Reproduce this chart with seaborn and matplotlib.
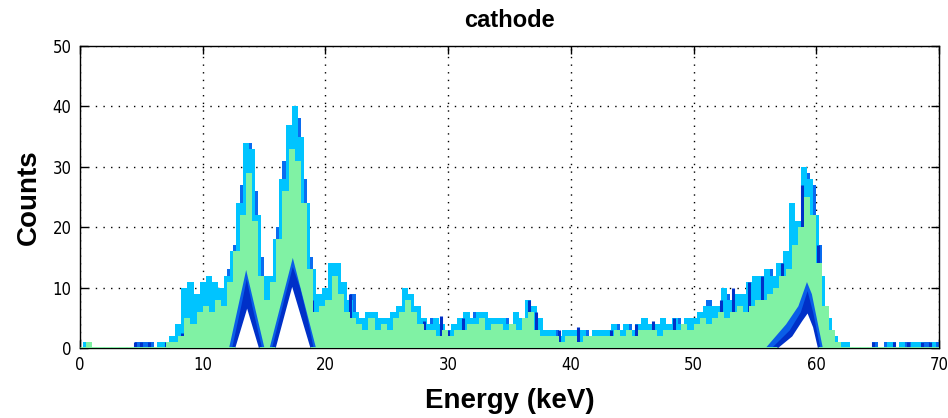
import numpy as np
import pandas as pd
import matplotlib
matplotlib.use("Agg")
import matplotlib.pyplot as plt
import seaborn as sns

# ---------------- data ----------------
BIN = 0.5
# upper envelope of the blue spectra, bins starting at 0, 0.5, ..., 69.5 keV
blue_top = [0, 0, 0, 0, 0, 0, 0, 0, 0, 1,
            1, 1, 0, 1, 1, 1, 3, 8, 9, 7,
            11, 10, 10, 9, 13, 17, 27, 34, 26, 15,
            9, 12, 20, 31, 36, 38, 28, 15, 7, 8,
            9, 14, 11, 8, 9, 4, 4, 5, 4, 5,
            4, 5, 7, 8, 7, 5, 3, 5, 4, 3,
            3, 4, 5, 5, 6, 5, 4, 5, 4, 5,
            4, 5, 5, 7, 5, 3, 2, 3, 2, 3,
            3, 2, 3, 2, 3, 3, 2, 4, 3, 4,
            3, 4, 4, 3, 4, 4, 3, 5, 4, 5,
            5, 6, 8, 6, 7, 9, 7, 8, 9, 10,
            11, 10, 13, 12, 13, 15, 20, 21, 29, 27,
            17, 7, 3, 1, 0, 0, 0, 0, 0, 1,
            0, 1, 1, 0, 1, 1, 0, 1, 1, 1]
# upper envelope of the cyan spectra, bins starting at 0.25, 0.75, ... keV
cyan_top = [1, 0, 0, 0, 0, 0, 0, 0, 0, 0,
            0, 0, 1, 1, 2, 4, 10, 11, 9, 11,
            12, 11, 10, 12, 16, 24, 34, 33, 22, 12,
            12, 18, 28, 37, 40, 35, 24, 13, 9, 10,
            14, 14, 11, 8, 6, 5, 6, 6, 5, 5,
            6, 7, 10, 9, 7, 5, 4, 5, 4, 3,
            4, 5, 6, 5, 6, 6, 5, 5, 5, 4,
            6, 5, 8, 7, 5, 3, 3, 2, 3, 3,
            3, 3, 2, 3, 3, 3, 4, 3, 4, 3,
            4, 5, 4, 4, 5, 4, 5, 4, 5, 5,
            6, 7, 7, 7, 10, 8, 9, 9, 11, 12,
            12, 13, 12, 14, 16, 24, 21, 30, 28, 22,
            12, 5, 2, 1, 1, 0, 0, 0, 0, 0,
            0, 1, 0, 1, 0, 1, 1, 0, 1, 0]
# upper envelope of the green spectra, bins starting at 0, 0.5, ... keV
green_top = [0, 1, 0, 0, 0, 0, 0, 0, 0, 0,
             0, 0, 0, 0, 1, 1, 2, 5, 4, 6,
             7, 6, 8, 7, 11, 16, 22, 29, 21, 12,
             8, 11, 18, 26, 33, 31, 24, 13, 6, 7,
             8, 12, 9, 6, 5, 4, 3, 5, 3, 4,
             3, 5, 6, 8, 6, 4, 3, 3, 2, 3,
             2, 3, 3, 4, 4, 5, 3, 4, 4, 3,
             4, 3, 5, 6, 3, 2, 2, 2, 1, 2,
             2, 1, 2, 2, 2, 2, 2, 3, 2, 3,
             2, 3, 3, 3, 2, 3, 3, 3, 4, 3,
             4, 5, 4, 5, 6, 5, 6, 7, 6, 7,
             8, 8, 9, 10, 12, 13, 17, 20, 25, 22,
             14, 7, 3, 1, 0, 0, 0, 0, 0, 0,
             0, 0, 0, 0, 0, 0, 0, 0, 0, 0]
# single dark-blue channels that stick out of the green body
spike_E = [4.5, 5.0, 5.6, 7.0, 8.3, 12.1, 18.9, 22.0, 23.7, 28.0, 29.4, 30.0, 31.2, 33.7,
           36.6, 37.2, 38.3, 39.0, 40.6, 43.3, 45.3, 46.7, 48.4, 52.2, 53.2, 54.5,
           55.6, 57.2, 58.8, 59.5, 60.1, 64.6, 66.3, 67.5, 68.6, 69.3]
spike_C = [1, 1, 1, 1, 2.5, 7, 8, 9, 5, 4.5, 5.3, 3, 5, 4,
           8, 6, 1.5, 3, 3.5, 3, 4, 4.4, 5, 8, 10, 11,
           12, 14, 27, 21, 17, 1, 1, 1, 1, 1]
# blue band under the peaks (energy, counts)
mid_E = [0, 12.1, 13.5, 15.0, 15.4, 17.3, 19.2,
         55.8, 57.5, 58.5, 59.2, 59.6, 60.2, 60.5, 70]
mid_C = [0, 0, 13, 0, 0, 15, 0,
         0, 4, 7, 11, 9, 3, 0, 0]
# dark-blue band under the peaks
dark_E = [0, 12.35, 13.1, 13.55, 14.0, 14.8, 15.6, 16.6, 17.3, 17.9, 18.5, 19.0,
          56.3, 57.8, 58.7, 59.25, 59.7, 60.3, 70]
dark_C = [0, 0, 7, 11.5, 7, 0, 0, 8, 13.5, 10, 5, 0,
          0, 3, 6, 9.5, 6, 0, 0]
# minimum over all spectra (empty area under the peaks)
floor_E = [0, 12.6, 13.58, 14.55, 15.9, 17.25, 18.75, 56.8, 58.0, 58.8, 59.25, 59.7, 60.1, 70]
floor_C = [0, 0, 6.6, 0, 0, 10.2, 0, 0, 2, 4.5, 5.8, 3.5, 0, 0]

x_ticks = [0, 10, 20, 30, 40, 50, 60, 70]
y_ticks = [0, 10, 20, 30, 40, 50]

# ---------------- style ----------------
sns.set_theme(style="ticks")
plt.rcParams["font.family"] = ["Liberation Sans", "DejaVu Sans"]
plt.rcParams.update({"text.color": "black", "axes.labelcolor": "black",
                     "xtick.color": "black", "ytick.color": "black"})

C_BLUE = "#0a6cf0"
C_CYAN = "#00c4ff"
C_GREEN = "#80f2a4"
C_MID = "#0a5ee8"
C_DARK = "#0030c8"

fig = plt.figure(figsize=(9.48, 4.18), dpi=100)
ax = fig.add_axes([80 / 948, 1 - 348 / 418, (939 - 80) / 948, (348 - 46) / 418])

n = len(blue_top)
df0 = pd.DataFrame({"E": np.arange(n) * BIN + BIN / 2, "blue": blue_top, "green": green_top})
df1 = pd.DataFrame({"E": np.arange(n) * BIN + BIN, "cyan": cyan_top})

sns.histplot(data=df0, x="E", weights="blue", binwidth=BIN, binrange=(0, n * BIN),
             element="step", fill=True, color=C_BLUE, alpha=1, linewidth=0, ax=ax, zorder=1.0)
sns.histplot(data=df1, x="E", weights="cyan", binwidth=BIN, binrange=(BIN / 2, n * BIN + BIN / 2),
             element="step", fill=True, color=C_CYAN, alpha=1, linewidth=0, ax=ax, zorder=1.1)
ax.vlines(spike_E, 0, spike_C, color=C_DARK, linewidth=2.2, zorder=1.15)
sns.histplot(data=df0, x="E", weights="green", binwidth=BIN, binrange=(0, n * BIN),
             element="step", fill=True, color=C_GREEN, alpha=1, linewidth=0, ax=ax, zorder=1.2)
ax.fill_between(mid_E, 0, mid_C, color=C_MID, linewidth=0, zorder=1.3)
ax.fill_between(dark_E, 0, dark_C, color=C_DARK, linewidth=0, zorder=1.4)
ax.fill_between(floor_E, -1, floor_C, color="white", linewidth=0, zorder=1.5)

# green zero-count baseline where the minimum is zero
fE = np.array(floor_E); fC = np.array(floor_C)
for i in range(len(fE) - 1):
    if fC[i] == 0 and fC[i + 1] == 0:
        ax.plot([fE[i], fE[i + 1]], [0, 0], color=C_GREEN, linewidth=2,
                zorder=2.6, solid_capstyle="butt")

ax.set_xlim(0, 70)
ax.set_ylim(0, 50)
ax.set_xticks(x_ticks)
ax.set_yticks(y_ticks)
ax.grid(True, color="black", linestyle=(0, (1, 4.5)), linewidth=1.0, zorder=0.5)
ax.set_axisbelow(True)
for s in ax.spines.values():
    s.set_visible(True)
    s.set_color("black")
    s.set_linewidth(1.0)
ax.tick_params(direction="in", length=6, width=1, top=True, right=True,
               labelsize=12, colors="black", pad=6)
for lab in ax.get_xticklabels() + ax.get_yticklabels():
    lab.set_family("DejaVu Sans")
    lab.set_stretch("condensed")
ax.set_xlabel("Energy (keV)", fontsize=20, fontweight="bold", labelpad=10)
ax.set_ylabel("Counts", fontsize=20, fontweight="bold", labelpad=8)
ax.set_title("cathode", fontsize=17, fontweight="bold", pad=14)

fig.savefig("out.png", dpi=100, facecolor="white")
